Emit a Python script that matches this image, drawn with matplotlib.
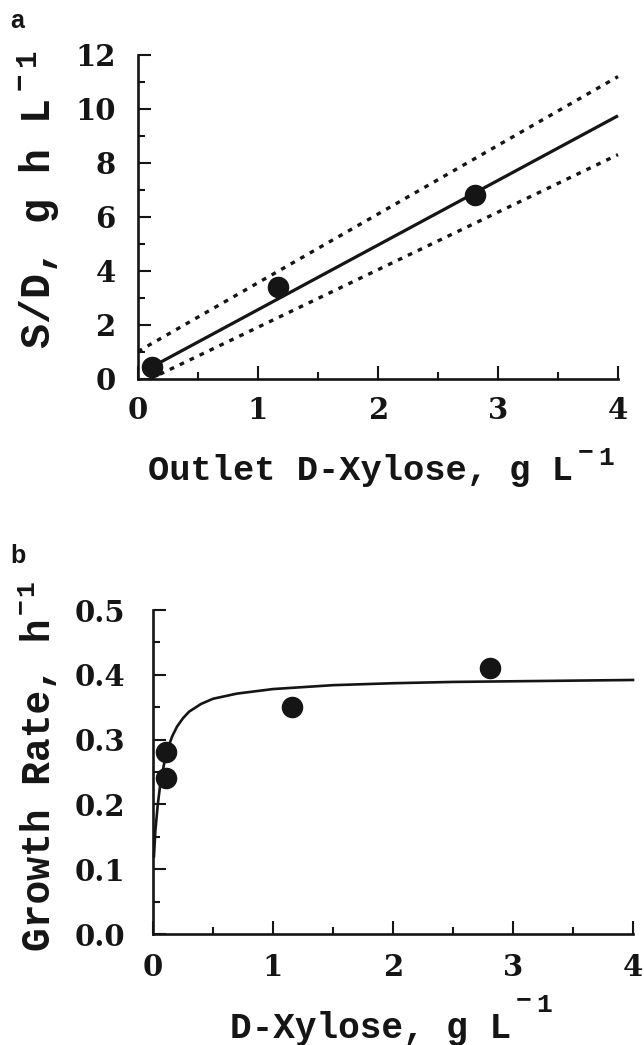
import matplotlib
matplotlib.use("Agg")
import matplotlib.pyplot as plt
from matplotlib.ticker import MultipleLocator

# ---------------- data ----------------
# panel a: S/D vs outlet D-xylose
a_x = [0.12, 1.17, 2.81]
a_y = [0.46, 3.40, 6.81]
a_fit_x = [0.12, 4.0]
a_fit_y = [0.46, 9.75]
a_upper_x = [0.0, 4.0]
a_upper_y = [1.02, 11.2]
a_lower_x = [0.10, 4.0]
a_lower_y = [0.0, 8.31]

# panel b: growth rate vs D-xylose
b_x = [0.107, 0.11, 1.16, 2.81]
b_y = [0.241, 0.281, 0.351, 0.410]
b_curve_x = [0.008, 0.02, 0.04, 0.06, 0.08, 0.10, 0.13, 0.16, 0.20, 0.25,
             0.30, 0.40, 0.50, 0.70, 1.00, 1.50, 2.00, 2.50, 3.00, 3.50, 4.00]
b_curve_y = [0.12, 0.16, 0.20, 0.23, 0.25, 0.27, 0.29, 0.305, 0.32, 0.333,
             0.343, 0.355, 0.363, 0.371, 0.378, 0.384, 0.387, 0.389, 0.390, 0.391, 0.392]

a_xticks = [0, 1, 2, 3, 4]
a_yticks = [0, 2, 4, 6, 8, 10, 12]
b_xticks = [0, 1, 2, 3, 4]
b_yticks = [0.0, 0.1, 0.2, 0.3, 0.4, 0.5]
b_yticklabels = ["0.0", "0.1", "0.2", "0.3", "0.4", "0.5"]

a_xlabel = "Outlet D-Xylose, g L"
a_ylabel = "S/D, g h L"
b_xlabel = "D-Xylose, g L"
b_ylabel = "Growth Rate, h"
exponent = ("\u2212", "1")

# ---------------- style ----------------
W, H = 644, 1045
INK = '#151515'
TICKFAM = 'DejaVu Serif'
TICKSIZE = 21
LABFAM = ['Liberation Mono', 'DejaVu Sans Mono']

fig = plt.figure(figsize=(W / 100, H / 100), dpi=100)
renderer = fig.canvas.get_renderer()


def px_axes(l, t, r, b):
    return fig.add_axes([l / W, 1 - b / H, (r - l) / W, (b - t) / H])


def style(ax, xpad, ypad):
    for s in ['top', 'right']:
        ax.spines[s].set_visible(False)
    for s in ['left', 'bottom']:
        ax.spines[s].set_linewidth(1.9)
        ax.spines[s].set_color(INK)
    ax.tick_params(which='both', direction='in', color=INK, width=1.5)
    ax.tick_params(which='major', length=9.5)
    ax.tick_params(which='minor', length=5)
    ax.tick_params(axis='x', which='major', pad=xpad)
    ax.tick_params(axis='y', which='major', pad=ypad)
    for lab in ax.get_xticklabels() + ax.get_yticklabels():
        lab.set_fontfamily(TICKFAM)
        lab.set_fontweight('bold')
        lab.set_fontsize(TICKSIZE)
        lab.set_color(INK)


def ftext(xpx, ypx, s, size, rot=0):
    # xpx, ypx in image pixels (origin top-left)
    return fig.text(xpx / W, 1 - ypx / H, s, ha='left', va='baseline',
                    rotation=rot, rotation_mode='anchor', family=LABFAM,
                    weight='bold', fontsize=size, color=INK)


def length(t):
    bb = t.get_window_extent(renderer)
    return bb.width, bb.height


def hlabel(x0, base, main, size, sup_size, sup_raise, minus_extra, gap1=5, gap2=4):
    t = ftext(x0, base, main, size)
    w, _ = length(t)
    xm = x0 + w + gap1
    tm = ftext(xm, base - sup_raise - minus_extra, exponent[0], sup_size)
    wm, _ = length(tm)
    ftext(xm + wm + gap2, base - sup_raise, exponent[1], sup_size)


def vlabel(xb, y0, main, size, sup_size, sup_raise, minus_extra, gap1=5, gap2=4):
    # text reads bottom->top; baseline at x = xb; starts at y0 (image px)
    t = ftext(xb, y0, main, size, rot=90)
    _, h = length(t)
    ym = y0 - h - gap1
    tm = ftext(xb - sup_raise - minus_extra, ym, exponent[0], sup_size, rot=90)
    _, hm = length(tm)
    ftext(xb - sup_raise, ym - hm - gap2, exponent[1], sup_size, rot=90)


# ---------------- panel a ----------------
axa = px_axes(138, 55, 618, 379)
axa.set_xlim(0, 4)
axa.set_ylim(0, 12)
axa.plot(a_upper_x, a_upper_y, color=INK, lw=2.4, ls=(0, (1.4, 1.9)), clip_on=False)
axa.plot(a_lower_x, a_lower_y, color=INK, lw=2.4, ls=(0, (1.4, 1.9)), clip_on=False)
axa.plot(a_fit_x, a_fit_y, color=INK, lw=2.3, solid_capstyle='butt', clip_on=False)
axa.plot(a_x, a_y, 'o', color=INK, ms=14.5, clip_on=False, zorder=5)
axa.set_xticks(a_xticks)
axa.set_yticks(a_yticks)
axa.xaxis.set_minor_locator(MultipleLocator(0.5))
axa.yaxis.set_minor_locator(MultipleLocator(1))
style(axa, xpad=12, ypad=16)

hlabel(148, 480, a_xlabel, 25.5, 19, sup_raise=15, minus_extra=6)
vlabel(50, 348, a_ylabel, 30, 21, sup_raise=15, minus_extra=6, gap1=8, gap2=7)
fig.text(10 / W, 1 - 28 / H, 'a', ha='left', va='baseline', family='Liberation Sans',
         weight='bold', fontsize=18, color=INK)

# ---------------- panel b ----------------
axb = px_axes(153, 610, 633, 934)
axb.set_xlim(0, 4)
axb.set_ylim(0, 0.5)
axb.plot(b_curve_x, b_curve_y, color=INK, lw=1.9, clip_on=False)
axb.plot(b_x, b_y, 'o', color=INK, ms=14.5, clip_on=False, zorder=5)
axb.set_xticks(b_xticks)
axb.set_yticks(b_yticks)
axb.set_yticklabels(b_yticklabels)
axb.xaxis.set_minor_locator(MultipleLocator(0.5))
axb.yaxis.set_minor_locator(MultipleLocator(0.05))
style(axb, xpad=14, ypad=20)

hlabel(230, 1038, b_xlabel, 26, 19, sup_raise=26, minus_extra=5)
vlabel(50, 951, b_ylabel, 28.5, 19, sup_raise=17, minus_extra=5, gap1=4, gap2=3)
fig.text(10 / W, 1 - 563 / H, 'b', ha='left', va='baseline', family='Liberation Sans',
         weight='bold', fontsize=18, color=INK)

fig.savefig('out.png', dpi=100, facecolor='white')
